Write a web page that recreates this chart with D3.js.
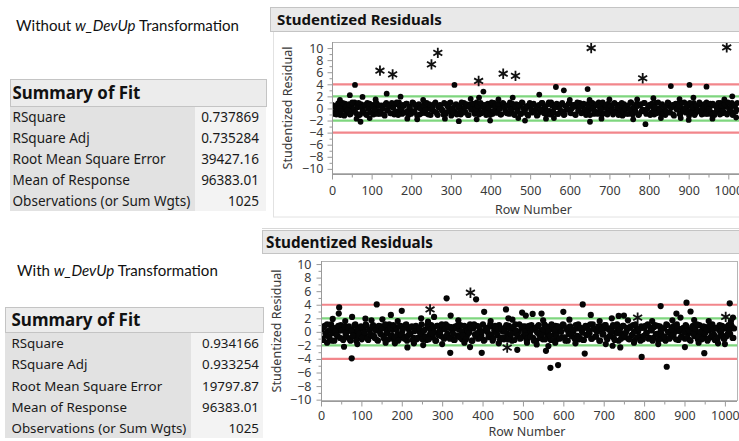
<!DOCTYPE html>
<html><head><meta charset="utf-8">
<script src="https://cdn.jsdelivr.net/npm/d3@7"></script>
<style>
html,body{margin:0;padding:0;background:#fff;}
svg{display:block;font-family:"Noto Sans",sans-serif;}
</style></head><body>
<svg id="c" width="739" height="441"></svg>
<script>
// ---- Summary of Fit tables ----
const fitLabels = ["RSquare", "RSquare Adj", "Root Mean Square Error", "Mean of Response", "Observations (or Sum Wgts)"];
const fitWithout = ["0.737869", "0.735284", "39427.16", "96383.01", "1025"];
const fitWith = ["0.934166", "0.933254", "19797.87", "96383.01", "1025"];

// ---- axis ticks ----
const yMajor = [-10, -8, -6, -4, -2, 0, 2, 4, 6, 8, 10];
const yMinor = [-9, -7, -5, -3, -1, 1, 3, 5, 7, 9];
const xMajor = [0, 100, 200, 300, 400, 500, 600, 700, 800, 900, 1000];
const xMinor = [50, 150, 250, 350, 450, 550, 650, 750, 850, 950];

// reference limits drawn across each plot
const innerLimit = 2;   // green
const outerLimit = 4;   // red

// bulk residuals are listed for every 4th row: list A holds rows 1, 5, 9, ...
// and list B holds rows 3, 7, 11, ...
const bandStep = 4;
const bandStartA = 1;
const bandStartB = 3;

// ---- residuals, model without the transformation ----
const bandWithoutA = [
  0.6,-0.9,0.1,-0.4,0.9,-1.1,0.3,-0.2,0.8,-0.7,0.0,-1.0,0.5,-0.3,1.0,-0.8,
  0.2,-1.1,0.7,-0.5,0.4,-0.9,0.9,-0.1,-0.6,0.6,-1.0,0.2,0.8,-0.4,-0.9,0.5,
  0.0,-1.2,0.9,-0.3,0.6,-0.8,0.2,-1.0,0.7,-0.5,1.0,-0.2,-0.9,0.4,-0.6,0.8,
  -1.1,0.3,-0.4,0.9,-0.7,0.1,0.6,-1.0,0.4,-0.2,0.9,-0.8,0.0,0.7,-1.1,0.5,
  -0.5,1.0,-0.9,0.2,0.6,-0.3,-1.0,0.8,-0.6,0.3,0.9,-1.2,0.1,-0.4,0.7,-0.8,
  0.5,-1.0,0.0,0.9,-0.6,0.3,-1.1,0.7,-0.2,0.4,-0.9,1.0,-0.5,0.2,-0.8,0.6,
  -0.1,-1.1,0.8,-0.4,0.5,-0.9,0.9,0.0,-0.7,0.6,-1.0,0.3,0.8,-0.3,-0.8,0.4,
  1.0,-0.6,0.1,-1.1,0.7,-0.2,0.4,-0.9,0.9,-0.5,0.0,-1.0,0.6,0.2,-0.7,0.8,
  -0.3,-1.2,0.5,-0.6,0.9,-0.1,0.3,-1.0,0.7,-0.4,1.0,-0.8,0.1,0.6,-0.9,0.2,
  -0.5,0.9,-1.1,0.4,-0.2,0.8,-0.7,0.0,0.6,-1.0,0.3,-0.4,0.9,-0.8,0.5,-0.1,
  -1.1,0.7,-0.3,0.2,0.9,-0.9,0.5,-0.6,1.0,-0.2,-1.0,0.4,0.1,-0.7,0.8,-0.5,
  0.3,-1.0,0.9,-0.4,0.6,-0.8,0.0,-1.2,0.7,-0.1,0.4,-0.9,1.0,-0.6,0.2,-0.3,
  0.8,-1.1,0.5,-0.5,-0.2,0.9,-0.9,0.1,0.6,-0.7,0.3,-1.0,0.9,-0.3,0.0,-0.8,
  0.7,-0.4,-1.1,0.4,0.9,-0.6,0.2,-1.0,0.5,-0.1,0.8,-0.9,0.1,-0.5,1.0,-0.7,
  0.3,-1.2,0.6,-0.2,0.9,-0.8,0.0,-0.5,0.7,-1.0,0.4,-0.3,1.0,-0.9,0.2,-0.6,
  0.8,-1.1,0.5,-0.4,-0.1,0.9,-0.8,0.3,0.6,-1.0,0.1,-0.5,0.9,-0.7,0.4,-0.2
];
const bandWithoutB = [
  -0.7,0.4,-1.0,0.8,0.1,-0.5,0.9,-1.2,0.3,-0.3,0.7,-0.9,1.0,-0.1,-0.6,0.5,
  0.9,-1.0,0.2,-0.4,0.6,-1.1,0.0,0.8,-0.7,0.3,-0.2,1.0,-0.9,0.5,-0.5,0.1,
  -1.0,0.7,-0.3,0.4,-0.8,0.9,0.1,-0.6,1.0,-1.1,0.3,-0.1,0.6,-0.7,0.8,-0.4,
  0.2,-0.9,1.0,-0.5,0.5,-1.2,0.7,0.0,-0.8,0.4,-0.3,0.9,-1.0,0.6,-0.2,0.3,
  0.8,-0.6,-1.1,0.5,0.1,-0.3,0.9,-0.9,0.4,-0.5,1.0,-0.1,-0.8,0.6,-1.0,0.2,
  -0.4,1.0,-0.7,0.2,0.7,-1.1,0.3,-0.2,0.8,-0.8,0.0,0.5,-1.0,0.9,-0.6,0.4,
  0.6,-0.8,0.1,-1.1,1.0,-0.4,0.4,-0.7,0.7,-0.1,-1.0,0.9,0.2,-0.6,0.5,-0.9,
  -0.2,0.8,-1.0,0.3,-0.5,0.6,-0.9,1.0,0.0,-0.7,0.4,-1.2,0.9,-0.3,0.7,-0.5,
  0.1,-1.1,0.6,-0.2,0.9,-0.8,0.3,-0.4,1.0,-1.0,0.5,-0.6,0.2,0.8,-0.9,0.0,
  0.7,-0.5,-1.0,0.4,-0.1,0.9,-0.8,0.2,0.6,-1.1,1.0,-0.3,0.3,-0.7,0.8,-0.2,
  -0.6,0.5,-1.1,0.9,0.0,-0.4,0.7,-0.9,0.3,-0.2,1.0,-0.8,0.6,-1.0,0.1,0.4,
  -0.3,0.8,-0.7,0.2,-1.1,0.6,0.9,-0.5,0.0,-0.9,0.5,-0.1,1.0,-1.0,0.3,-0.6,
  0.4,-1.0,0.7,-0.3,0.9,-0.6,-0.1,0.5,-1.1,0.8,-0.4,0.2,-0.8,1.0,-0.2,0.6,
  -0.9,0.3,-0.5,1.0,-0.7,0.1,0.6,-1.2,0.8,-0.2,0.4,-1.0,0.9,-0.4,0.0,0.7,
  -0.5,0.9,-0.8,0.2,-1.1,0.5,-0.3,1.0,-0.6,0.1,0.7,-0.9,0.3,-0.1,0.8,-1.0,
  0.5,-0.7,0.0,0.9,-1.0,0.4,-0.4,0.7,-0.8,1.0,-0.2,0.2,-1.1,0.6,-0.5,0.9
];
// [row, residual] for residuals outside the bulk
const spreadWithout = [
  [20,1.4],[45,2.2],[58,3.9],[62,-1.7],[72,-2.2],[77,1.9],[95,-1.6],[110,1.5],
  [138,2.45],[173,1.95],[190,-1.7],[215,-1.8],[230,1.4],[285,-1.7],[309,3.9],
  [320,-2.1],[350,1.6],[365,-1.8],[371,1.8],[382,2.8],[399,-2.0],[420,1.5],
  [456,1.8],[470,-1.6],[487,-2.0],[523,2.3],[540,-1.7],[560,-1.6],[565,3.55],
  [585,3.0],[600,1.4],[645,3.2],[650,1.4],[651,-2.2],[680,-1.7],[700,1.5],
  [760,-1.8],[770,1.5],[791,-2.6],[811,1.7],[830,-1.6],[855,3.7],[877,1.55],
  [880,-1.6],[900,-1.9],[902,3.9],[912,1.8],[945,3.6],[960,-1.7],[990,1.5],
  [1010,2.0],[1020,-1.5]
];
// [row, residual] for starred rows
const starsWithout = [
  [121,6.25],[153,5.65],[251,7.3],[267,9.2],[370,4.55],[432,5.75],[463,5.4],
  [654,10.0],[784,5.0],[996,10.1]
];

// ---- residuals, model with the transformation ----
const bandWithA = [
  0.4,-1.2,0.9,-0.5,0.1,-0.9,1.1,-0.2,-1.3,0.6,-0.6,0.2,1.0,-1.0,0.5,-0.3,
  -0.8,0.8,-1.3,0.3,-0.1,1.1,-0.7,0.0,0.7,-1.1,0.4,-0.4,0.9,-1.2,0.2,-0.6,
  1.0,-0.9,0.5,-1.3,0.1,0.8,-0.5,-1.0,0.6,-0.2,1.1,-0.8,0.3,-1.2,0.7,-0.4,
  -1.1,0.9,0.0,-0.7,1.0,-1.3,0.4,-0.3,0.8,-0.9,0.2,-1.1,0.6,-0.1,1.1,-0.6,
  0.3,-1.2,0.7,-0.4,1.0,-0.8,-0.1,-1.3,0.9,0.1,-0.6,0.5,-1.0,1.1,-0.3,0.6,
  -0.9,0.2,-1.2,0.8,-0.5,0.4,1.0,-1.1,0.0,0.7,-0.7,-0.2,1.1,-1.3,0.5,-0.4,
  0.9,-1.0,0.3,-0.6,1.1,-1.2,0.6,-0.1,-0.8,0.8,-1.3,0.2,0.5,-0.5,1.0,-0.9,
  0.1,-1.1,0.7,-0.3,0.9,-0.7,-1.3,0.4,1.1,-0.4,0.0,-1.0,0.6,-0.6,0.8,-1.2,
  0.3,-0.2,1.0,-0.9,0.5,-1.3,0.8,-0.5,0.2,-1.1,1.1,-0.1,-0.7,0.6,-1.2,0.4,
  -0.4,0.9,-1.0,0.1,0.7,-0.8,1.0,-1.3,0.3,-0.3,0.8,-0.6,0.0,-1.1,0.5,1.1,
  -0.9,0.2,-1.2,0.6,-0.5,0.9,-0.2,-1.0,1.1,0.4,-0.7,0.1,-1.3,0.8,-0.4,0.5,
  1.0,-1.1,0.3,-0.6,0.7,-0.9,-0.1,1.1,-1.3,0.5,-0.3,0.9,-0.8,0.2,-1.0,0.6,
  -0.5,1.0,-1.2,0.4,0.0,-0.7,0.8,-1.1,0.6,-0.2,1.1,-0.9,0.3,-1.3,0.7,-0.4,
  0.9,-0.6,0.2,-1.0,0.5,-1.3,1.0,-0.1,-0.8,0.7,-0.4,0.1,1.1,-1.2,0.4,-0.7,
  0.6,-1.0,0.8,-0.3,-1.2,0.3,0.9,-0.6,0.0,-1.1,1.0,-0.5,0.5,-0.9,0.7,-1.3,
  0.2,-0.8,1.1,-0.4,0.6,-1.2,0.3,-0.1,0.9,-1.0,0.5,-0.6,1.0,-0.3,0.8,-0.9
];
const bandWithB = [
  -1.0,0.7,-0.2,1.1,-0.7,0.3,-1.3,0.5,0.0,-0.5,0.9,-0.9,0.2,-1.2,0.8,-0.1,
  0.6,-1.1,0.1,-0.6,1.0,-1.3,0.4,-0.3,0.8,-0.8,-0.1,1.1,-1.0,0.3,-0.4,0.7,
  -0.6,0.2,-1.2,0.9,-0.3,0.5,-0.9,1.1,0.0,-1.1,0.6,-0.5,1.0,-0.8,0.3,-1.3,
  0.8,-0.4,0.4,-1.0,1.1,-0.6,-0.2,0.7,-1.2,0.1,0.9,-0.9,0.5,-0.3,-1.1,0.2,
  -0.7,1.0,-1.1,0.3,-0.2,0.6,-1.3,0.9,-0.5,0.0,1.1,-0.9,0.4,-0.6,0.8,-1.0,
  0.7,-0.3,-1.2,0.5,1.0,-0.8,0.1,-0.5,0.9,-1.1,0.2,-0.1,0.6,-1.3,1.1,-0.6,
  -0.2,0.8,-0.9,0.0,-1.3,0.6,0.3,-0.7,1.1,-0.4,-1.0,0.9,-0.1,0.4,-1.2,0.5,
  -0.8,0.1,1.0,-1.1,0.5,-0.3,0.7,-1.2,0.2,-0.6,1.1,-0.9,0.8,0.0,-0.5,-1.0,
  0.9,-0.7,0.3,-1.3,0.6,-0.1,1.0,-0.9,-0.4,0.4,-1.1,0.8,0.1,-0.6,1.1,-1.2,
  0.2,-0.5,0.8,-1.0,0.0,1.1,-0.8,0.5,-1.3,0.7,-0.2,0.3,-0.9,1.0,-0.6,-1.1,
  0.6,-0.1,-1.2,0.9,-0.4,0.2,1.1,-1.0,0.5,-0.7,0.0,0.8,-1.3,0.4,-0.3,1.0,
  -0.9,0.5,-0.6,0.1,1.0,-1.2,0.7,-0.2,0.3,-1.0,0.9,-0.5,-0.1,0.6,-1.1,0.8,
  -0.4,0.0,1.1,-0.8,0.4,-1.3,0.6,-0.6,0.9,-0.1,-1.0,0.7,0.2,-0.9,1.0,-0.3,
  -1.2,0.8,-0.3,0.5,-0.7,1.1,0.0,-1.0,0.3,-0.5,0.9,-1.1,0.6,0.1,-0.8,0.4,
  -0.1,1.0,-0.9,0.2,-1.3,0.7,-0.4,0.5,1.1,-0.7,0.0,-1.1,0.8,-0.2,0.4,-1.0,
  0.9,-0.5,0.3,-1.2,0.6,-0.8,1.0,0.1,-0.6,-1.0,0.7,-0.3,0.2,1.1,-0.9,0.5
];
const spreadWith = [
  [15,-1.6],[29,1.9],[44,2.7],[45,3.6],[57,-2.2],[60,1.6],[76,-3.9],[77,2.2],
  [90,-1.8],[110,1.95],[125,1.7],[138,4.05],[152,1.85],[160,-1.6],[173,2.5],
  [183,-1.7],[190,1.6],[200,3.1],[214,-2.3],[230,-1.7],[248,2.0],[253,-1.95],
  [265,1.5],[280,2.2],[300,-1.8],[311,4.95],[320,-3.1],[321,2.4],[340,1.7],
  [355,-1.6],[369,-2.25],[384,4.8],[398,-3.1],[404,2.95],[420,1.6],[440,-1.7],
  [458,3.3],[464,2.0],[474,1.8],[486,-2.65],[498,2.85],[507,2.4],[510,-1.6],
  [524,2.65],[534,-1.85],[546,2.7],[550,1.7],[557,-2.8],[563,-2.1],[568,-5.3],
  [580,-1.6],[587,-4.9],[600,2.95],[615,1.8],[630,-1.7],[648,4.05],[653,-3.2],
  [668,2.5],[690,1.6],[705,-1.8],[720,2.0],[722,-2.05],[737,2.35],[741,-2.3],
  [750,2.4],[760,1.7],[775,-1.6],[794,-3.7],[820,1.6],[835,-1.8],[841,3.8],
  [856,-5.15],[870,1.7],[880,2.7],[890,2.1],[901,-2.25],[905,4.3],[915,3.0],
  [924,1.75],[935,-1.6],[949,-3.15],[960,1.6],[983,-1.7],[1000,-1.8],
  [1012,4.2],[1015,1.6],[1020,2.1]
];
const starsWith = [[270,3.3],[370,5.77],[461,-2.33],[784,2.1],[1002,2.2]];

const svg = d3.select("#c");

function fitWidth(node, w) {
  const L = node.getComputedTextLength();
  const fs = parseFloat(getComputedStyle(node).fontSize);
  node.style.fontSize = (fs * w / L) + "px";
  return fs * w / L;
}

// ---- left column: caption + Summary of Fit ----
function caption(x, cy, lead, w) {
  const t = svg.append("text").attr("x", x).attr("y", cy).attr("dy", "0.35em")
    .style("font-family", "Lato, 'Noto Sans', sans-serif").style("font-size", "13px").attr("fill", "#111");
  t.append("tspan").text(lead + " ");
  t.append("tspan").style("font-style", "italic").text("w_DevUp");
  t.append("tspan").text(" Transformation");
  fitWidth(t.node(), w);
}

function summary(o, values) {
  const g = svg.append("g");
  g.append("rect").attr("x", o.x0 + 0.5).attr("y", o.hy0 + 0.5).attr("width", o.x2 - o.x0)
    .attr("height", o.hy1 - o.hy0).attr("fill", "#ececec").attr("stroke", "#c4c4c4");
  const h = g.append("text").attr("x", o.tx).attr("y", (o.hy0 + o.hy1) / 2 + 1).attr("dy", "0.35em")
    .style("font-weight", "bold").style("font-size", "15px").attr("fill", "#111").text("Summary of Fit");
  fitWidth(h.node(), o.hw);
  g.append("rect").attr("x", o.x0).attr("y", o.ry0).attr("width", o.x1 - o.x0)
    .attr("height", o.ry1 - o.ry0).attr("fill", "#e2e2e2");
  g.append("rect").attr("x", o.x1).attr("y", o.ry0).attr("width", o.x2 - o.x1)
    .attr("height", o.ry1 - o.ry0).attr("fill", "#f3f3f3");
  const rows = d3.range(fitLabels.length);
  const labs = g.selectAll("text.lab").data(rows).join("text").attr("class", "lab")
    .attr("x", o.tx).attr("y", i => o.r0 + i * o.rp).attr("dy", "0.35em")
    .style("font-size", "13px").attr("fill", "#1a1a1a").text(i => fitLabels[i]);
  const fs = fitWidth(labs.nodes()[4], o.lw);
  labs.style("font-size", fs + "px");
  g.selectAll("text.val").data(rows).join("text").attr("class", "val")
    .attr("x", o.vx).attr("y", i => o.r0 + i * o.rp).attr("dy", "0.35em")
    .attr("text-anchor", "end").style("font-size", fs + "px").attr("fill", "#1a1a1a")
    .text(i => values[i]);
}

caption(16, 26, "Without", 223);
caption(17, 270.5, "With", 201);

summary({x0: 10, x1: 195, x2: 266, hy0: 79, hy1: 106, ry0: 107, ry1: 211, tx: 12.5, hw: 128,
         r0: 117.5, rp: 21, lw: 178, vx: 259}, fitWithout);
summary({x0: 5, x1: 191, x2: 263, hy0: 307, hy1: 332, ry0: 333, ry1: 438, tx: 11.5, hw: 129,
         r0: 343.5, rp: 21.2, lw: 175, vx: 259}, fitWith);

// ---- residual plots ----
function residualPlot(o, bandA, bandB, spread, stars, id) {
  const g = svg.append("g");
  // section header
  g.append("rect").attr("x", o.hx + 0.5).attr("y", o.hy0 + 0.5).attr("width", 739 - o.hx)
    .attr("height", o.hy1 - o.hy0).attr("fill", "#e9e9e9").attr("stroke", "#c4c4c4");
  const ht = g.append("text").attr("x", o.htx).attr("y", (o.hy0 + o.hy1) / 2 + 1).attr("dy", "0.35em")
    .style("font-weight", "bold").style("font-size", "15px").attr("fill", "#111").text("Studentized Residuals");
  fitWidth(ht.node(), o.hw);

  const x = d3.scaleLinear().domain(o.xd).range([o.px0, o.px1]);
  const y = d3.scaleLinear().domain(o.yd).range([o.py1, o.py0]);

  g.append("rect").attr("x", o.px0).attr("y", o.py0).attr("width", o.px1 - o.px0)
    .attr("height", o.py1 - o.py0).attr("fill", "#fff");

  g.append("clipPath").attr("id", id).append("rect").attr("x", o.px0).attr("y", o.py0)
    .attr("width", o.px1 - o.px0).attr("height", o.py1 - o.py0);
  const plot = g.append("g").attr("clip-path", `url(#${id})`);

  // limit lines
  const lines = [[innerLimit, "#7ed67e"], [-innerLimit, "#7ed67e"], [outerLimit, "#f2868b"], [-outerLimit, "#f2868b"]];
  plot.selectAll("line.lim").data(lines).join("line").attr("class", "lim")
    .attr("x1", o.px0).attr("x2", o.px1).attr("y1", d => y(d[0])).attr("y2", d => y(d[0]))
    .attr("stroke", d => d[1]).attr("stroke-width", 2.2);

  const pts = bandA.map((v, i) => [bandStartA + i * bandStep, v])
    .concat(bandB.map((v, i) => [bandStartB + i * bandStep, v]))
    .concat(spread);
  plot.selectAll("circle.b").data(pts).join("circle").attr("class", "b")
    .attr("cx", d => x(d[0])).attr("cy", d => y(d[1])).attr("r", o.r).attr("fill", "#050505");

  const star = d3.symbol(d3.symbolAsterisk, o.star);
  plot.selectAll("path.s").data(stars).join("path").attr("class", "s")
    .attr("transform", d => `translate(${x(d[0])},${y(d[1])})`).attr("d", star)
    .attr("fill", "none").attr("stroke", "#111").attr("stroke-width", 1.8);

  // frame
  g.append("rect").attr("x", o.px0 + 0.5).attr("y", o.py0 + 0.5).attr("width", o.px1 - o.px0)
    .attr("height", o.py1 - o.py0 - 1).attr("fill", "none").attr("stroke", "#b5b5b5");

  // axes
  const ya = g.append("g").attr("transform", `translate(${o.px0 + 0.5},0)`)
    .call(d3.axisLeft(y).tickValues(yMajor).tickSize(5).tickPadding(o.ypad).tickFormat(d3.format("d")));
  const ym = g.append("g").attr("transform", `translate(${o.px0 + 0.5},0)`)
    .call(d3.axisLeft(y).tickValues(yMinor).tickSize(3));
  const xa = g.append("g").attr("transform", `translate(0,${o.py1 + 0.5})`)
    .call(d3.axisBottom(x).tickValues(xMajor).tickSize(5).tickPadding(o.xpad).tickFormat(d3.format("d")));
  const xm = g.append("g").attr("transform", `translate(0,${o.py1 + 0.5})`)
    .call(d3.axisBottom(x).tickValues(xMinor).tickSize(3));
  ym.selectAll("text").remove();
  xm.selectAll("text").remove();
  [ya, ym, xa, xm].forEach(a => {
    a.select(".domain").attr("stroke", "#9a9a9a");
    a.selectAll(".tick line").attr("stroke", "#9a9a9a");
    a.selectAll("text").style("font-family", "'Noto Sans', sans-serif").style("font-size", "12.5px").attr("fill", "#3a3a3a");
  });
  ya.select(".domain").attr("d", `M0,${o.py0}V${o.py1}`);
  xa.select(".domain").attr("d", `M${o.px0},0H${o.px1}`);
  ym.select(".domain").remove();
  xm.select(".domain").remove();

  g.append("text").attr("x", (o.px0 + o.px1) / 2 - 2).attr("y", o.xty).attr("dy", "0.35em")
    .attr("text-anchor", "middle").style("font-size", "12.5px").attr("fill", "#3a3a3a").text("Row Number");
  g.append("text").attr("transform", `translate(${o.ytx},${(o.py0 + o.py1) / 2})rotate(-90)`)
    .attr("dy", "0.35em").attr("text-anchor", "middle").style("font-size", "12.5px")
    .attr("fill", "#3a3a3a").text("Studentized Residual");
}

// outline around the upper plot section
svg.append("rect").attr("x", 273.5).attr("y", 31.5).attr("width", 470).attr("height", 185.5)
  .attr("fill", "none").attr("stroke", "#e2e2e2");
svg.append("line").attr("x1", 262).attr("x2", 739).attr("y1", 228.5).attr("y2", 228.5).attr("stroke", "#d8d8d8");

residualPlot({hx: 270, hy0: 7, hy1: 31, htx: 277, hw: 165,
  px0: 332, px1: 739, py0: 42, py1: 174, xd: [0, 1027], yd: [-10.85, 11.0],
  r: 2.9, star: 75, ypad: 4, xpad: 7, xty: 209.5, ytx: 288},
  bandWithoutA, bandWithoutB, spreadWithout, starsWithout, "clipA");

residualPlot({hx: 262, hy0: 230, hy1: 253, htx: 266, hw: 167,
  px0: 321, px1: 737, py0: 261, py1: 401, xd: [0, 1030], yd: [-10.2, 10.45],
  r: 3.1, star: 75, ypad: 5, xpad: 5, xty: 432, ytx: 277},
  bandWithA, bandWithB, spreadWith, starsWith, "clipB");
</script>
</body></html>
